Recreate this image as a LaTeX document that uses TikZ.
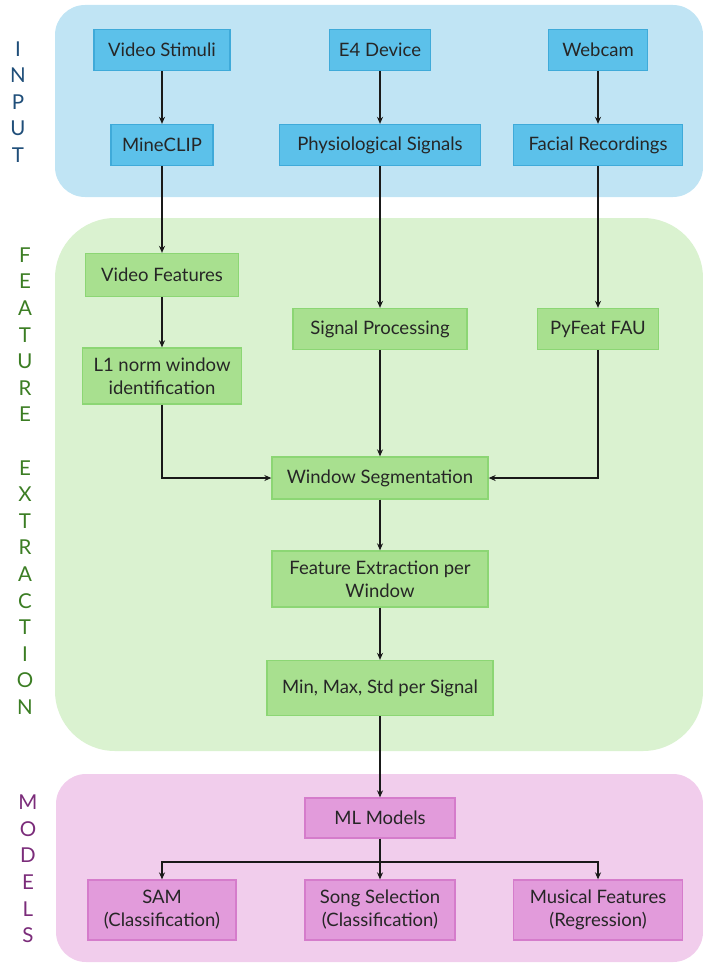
\documentclass[tikz,border=0pt]{standalone}
\usepackage{fontspec}
\setmainfont{Lato}
\usetikzlibrary{arrows.meta}

\definecolor{inbg}{HTML}{C0E4F4}
\definecolor{infill}{HTML}{5CC1EA}
\definecolor{inedge}{HTML}{3FAAD9}
\definecolor{fxbg}{HTML}{DAF2D0}
\definecolor{fxfill}{HTML}{A8E08F}
\definecolor{fxedge}{HTML}{8CD674}
\definecolor{mdbg}{HTML}{F1CDEC}
\definecolor{mdfill}{HTML}{E29BDB}
\definecolor{mdedge}{HTML}{D57CCB}
\definecolor{inlbl}{HTML}{1F4E79}
\definecolor{fxlbl}{HTML}{3B7D23}
\definecolor{mdlbl}{HTML}{7B2C7A}

\tikzset{
  box/.style={draw, line width=1.3pt, align=center, inner sep=0pt,
    text=black!85, font=\fontsize{18.5}{23}\selectfont},
  inbox/.style={box, fill=infill, draw=inedge},
  fxbox/.style={box, fill=fxfill, draw=fxedge},
  mdbox/.style={box, fill=mdfill, draw=mdedge},
  flow/.style={-{Stealth[length=7pt,width=6pt]}, line width=1.3pt, black!90},
  stage/.style={align=center, font=\fontsize{20.5}{26.6}\selectfont}
}

\begin{document}
\begin{tikzpicture}[x=1pt,y=-1pt]
  \useasboundingbox (0,0) rectangle (703,966);

  % Stage backgrounds
  \fill[inbg, rounded corners=30pt] (55,5) rectangle (703,197);
  \fill[fxbg, rounded corners=60pt] (55,218) rectangle (703,751);
  \fill[mdbg, rounded corners=30pt] (56,774) rectangle (703,962);

  % Stage labels
  \node[stage, text=inlbl] (lblin) at (18,102) {I\\N\\P\\U\\T};
  \node[stage, text=fxlbl] (lblfx) at (25,481) {F\\E\\A\\T\\U\\R\\E\\[26.6pt]E\\X\\T\\R\\A\\C\\T\\I\\O\\N};
  \node[stage, text=mdlbl] (lblmd) at (28,869) {M\\O\\D\\E\\L\\S};

  % Input
  \node[inbox, minimum width=136pt, minimum height=41pt] (vs) at (162,50) {Video Stimuli};
  \node[inbox, minimum width=102pt, minimum height=41pt] (mc) at (162,145) {MineCLIP};
  \node[inbox, minimum width=101pt, minimum height=41pt] (e4) at (380,50) {E4 Device};
  \node[inbox, minimum width=201pt, minimum height=41pt] (phys) at (380,145) {Physiological Signals};
  \node[inbox, minimum width=99pt, minimum height=41pt] (cam) at (598,50) {Webcam};
  \node[inbox, minimum width=169pt, minimum height=41pt] (face) at (598,145) {Facial Recordings};

  % Feature extraction
  \node[fxbox, minimum width=153pt, minimum height=43pt] (vf) at (162,275) {Video Features};
  \node[fxbox, minimum width=159pt, minimum height=56pt] (l1) at (162,376) {L1 norm window\\identification};
  \node[fxbox, minimum width=174pt, minimum height=41pt] (sp) at (380,329) {Signal Processing};
  \node[fxbox, minimum width=121pt, minimum height=41pt] (pf) at (598,329) {PyFeat FAU};
  \node[fxbox, minimum width=216pt, minimum height=42pt] (ws) at (380,478) {Window Segmentation};
  \node[fxbox, minimum width=216pt, minimum height=56pt] (fe) at (380,579) {Feature Extraction per\\Window};
  \node[fxbox, minimum width=226pt, minimum height=55pt] (mm) at (380,688) {Min, Max, Std per Signal};

  % Models
  \node[mdbox, minimum width=150pt, minimum height=40pt] (ml) at (380,818) {ML Models};
  \node[mdbox, minimum width=148pt, minimum height=60pt] (sam) at (162,910) {SAM\\(Classification)};
  \node[mdbox, minimum width=150pt, minimum height=60pt] (song) at (380,910) {Song Selection\\(Classification)};
  \node[mdbox, minimum width=169pt, minimum height=60pt] (mus) at (598,910) {Musical Features\\(Regression)};

  % Connectors
  \draw[flow] (vs) -- (mc);
  \draw[flow] (e4) -- (phys);
  \draw[flow] (cam) -- (face);
  \draw[flow] (mc) -- (vf);
  \draw[flow] (vf) -- (l1);
  \draw[flow] (phys) -- (sp);
  \draw[flow] (face) -- (pf);
  \draw[flow] (l1.south) |- (ws.west);
  \draw[flow] (sp) -- (ws);
  \draw[flow] (pf.south) |- (ws.east);
  \draw[flow] (ws) -- (fe);
  \draw[flow] (fe) -- (mm);
  \draw[flow] (mm) -- (ml);

  % Branch to the three tasks
  \coordinate (split) at (380,862);
  \draw[line width=1.3pt, black!90] (ml.south) -- (split);
  \draw[flow] (split) -| (sam.north);
  \draw[flow] (split) -- (song.north);
  \draw[flow] (split) -| (mus.north);
\end{tikzpicture}
\end{document}
